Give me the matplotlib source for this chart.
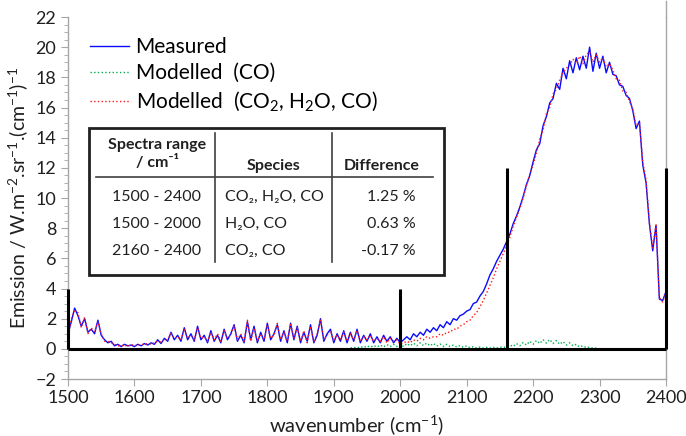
import numpy as np
import matplotlib
matplotlib.use("Agg")
import matplotlib.pyplot as plt
from matplotlib.lines import Line2D
from matplotlib.ticker import MultipleLocator

# spectra, sampled every 5 cm-1 from 1500 to 2400
wavenumber = np.arange(1500, 2405, 5)

measured = [
    1.0, 1.8, 2.7, 2.2, 1.5, 2.0, 1.1, 1.3, 1.0, 1.9,
    0.9, 0.6, 0.4, 0.5, 0.2, 0.3, 0.15, 0.3, 0.2, 0.25,
    0.15, 0.3, 0.2, 0.35, 0.25, 0.4, 0.3, 0.6, 0.35, 0.7,
    0.5, 1.1, 0.6, 0.9, 0.5, 1.4, 0.6, 1.0, 0.5, 1.5,
    0.6, 0.9, 0.4, 1.2, 0.5, 0.9, 0.4, 1.3, 0.6, 1.0,
    1.6, 0.5, 0.9, 0.4, 1.8, 0.6, 1.5, 0.4, 1.1, 0.5,
    1.7, 0.6, 1.0, 1.6, 0.5, 1.2, 0.4, 1.7, 0.6, 1.5,
    0.4, 1.1, 0.5, 1.6, 0.4, 0.9, 2.0, 0.5, 1.0, 1.3,
    0.4, 1.0, 0.5, 1.2, 0.4, 1.1, 0.5, 1.3, 0.4, 0.9,
    0.5, 1.0, 0.4, 0.8, 0.4, 0.9, 0.5, 0.8, 0.4, 0.7,
    0.4, 0.6, 0.8, 0.6, 1.0, 0.8, 1.1, 0.9, 1.3, 1.1,
    1.4, 1.2, 1.6, 1.4, 1.8, 1.6, 2.0, 1.9, 2.2, 2.3,
    2.5, 2.6, 3.0, 3.1, 3.5, 3.8, 4.3, 4.9, 5.3, 5.8,
    6.2, 6.6, 7.1, 7.6, 8.3, 8.8, 9.4, 10.1, 10.9, 11.5,
    12.4, 13.2, 13.6, 14.8, 15.4, 16.3, 16.6, 17.6, 17.2, 18.6,
    17.9, 19.1, 18.3, 19.3, 18.5, 19.4, 18.6, 20.0, 18.4, 19.6,
    18.6, 19.4, 18.3, 19.0, 18.2, 18.1, 17.5, 17.4, 16.8, 16.6,
    15.8, 14.6, 15.1, 12.2, 11.0, 8.3, 6.5, 8.2, 3.3, 3.2,
    3.8,
]

modelled_all = [
    0.8, 2.0, 2.5, 2.4, 1.4, 2.1, 1.0, 1.4, 1.1, 1.8,
    1.0, 0.5, 0.5, 0.4, 0.3, 0.2, 0.2, 0.25, 0.15, 0.3,
    0.2, 0.25, 0.3, 0.3, 0.35, 0.3, 0.4, 0.5, 0.45, 0.6,
    0.6, 1.0, 0.7, 0.8, 0.6, 1.3, 0.7, 0.9, 0.6, 1.4,
    0.7, 0.8, 0.5, 1.1, 0.6, 1.0, 0.5, 1.2, 0.7, 0.9,
    1.5, 0.6, 1.0, 0.5, 1.9, 0.5, 1.4, 0.5, 1.0, 0.6,
    1.6, 0.7, 0.9, 1.7, 0.6, 1.1, 0.5, 1.6, 0.7, 1.4,
    0.5, 1.2, 0.4, 1.5, 0.5, 1.0, 1.9, 0.6, 0.9, 1.2,
    0.5, 0.9, 0.6, 1.1, 0.5, 1.0, 0.6, 1.2, 0.5, 0.8,
    0.6, 0.9, 0.5, 0.7, 0.5, 0.8, 0.4, 0.7, 0.5, 0.6,
    0.3, 0.4, 0.5, 0.4, 0.6, 0.5, 0.7, 0.6, 0.8, 0.7,
    0.8, 0.8, 1.0, 0.9, 1.1, 1.1, 1.3, 1.3, 1.5, 1.6,
    1.8, 1.9, 2.2, 2.4, 2.8, 3.2, 3.7, 4.2, 4.7, 5.3,
    5.8, 6.3, 6.8, 7.4, 8.1, 8.7, 9.3, 10.0, 10.8, 11.6,
    12.2, 13.0, 13.9, 14.5, 15.6, 16.0, 16.9, 17.2, 17.8, 18.3,
    18.6, 18.8, 19.2, 18.9, 19.4, 18.9, 19.5, 19.7, 19.0, 19.5,
    19.0, 19.3, 18.7, 18.9, 18.5, 17.9, 17.8, 17.1, 17.0, 16.4,
    15.9, 14.8, 15.0, 12.4, 11.2, 8.4, 6.7, 8.3, 3.4, 3.1,
    3.7,
]

# CO-only model, only non-zero from ~1920 to 2300
co_wavenumber = np.arange(1920, 2305, 5)
modelled_co = [
    0.0, 0.05, 0.1, 0.05, 0.15, 0.08, 0.2, 0.1, 0.22, 0.12,
    0.25, 0.12, 0.28, 0.15, 0.3, 0.15, 0.3, 0.15, 0.35, 0.2,
    0.38, 0.2, 0.4, 0.22, 0.38, 0.2, 0.36, 0.18, 0.32, 0.15,
    0.3, 0.15, 0.25, 0.12, 0.22, 0.1, 0.2, 0.08, 0.15, 0.06,
    0.12, 0.05, 0.1, 0.05, 0.1, 0.05, 0.12, 0.08, 0.15, 0.25,
    0.15, 0.35, 0.2, 0.42, 0.25, 0.5, 0.3, 0.55, 0.35, 0.6,
    0.38, 0.62, 0.35, 0.55, 0.3, 0.48, 0.25, 0.4, 0.2, 0.3,
    0.12, 0.2, 0.08, 0.12, 0.04, 0.05, 0.0,
]

# fitting range markers
marker_wn = [1500, 2000, 2160, 2400]
marker_top = [4, 4, 12, 12]

# table
table_ranges = ["1500 - 2400", "1500 - 2000", "2160 - 2400"]
table_species = ["CO\u2082, H\u2082O, CO", "H\u2082O, CO", "CO\u2082, CO"]
table_diff = ["1.25 %", "0.63 %", "-0.17 %"]

plt.rcParams['font.family'] = ['Lato', 'DejaVu Sans']
plt.rcParams['mathtext.fontset'] = 'custom'
plt.rcParams['mathtext.rm'] = 'Lato'
plt.rcParams['mathtext.it'] = 'Lato:italic'
plt.rcParams['mathtext.bf'] = 'Lato:bold'

W, H = 686, 436
fig = plt.figure(figsize=(W / 100, H / 100), dpi=100)
ax = fig.add_axes([68 / W, 1 - 379 / H, 598 / W, 362 / H])

ax.plot(wavenumber, measured, color='#0a0aff', lw=1.0, label='Measured')
ax.plot(co_wavenumber, modelled_co, color='#00b050', lw=1.0, ls=':', label='Modelled  (CO)')
ax.plot(wavenumber, modelled_all, color='#ff1a1a', lw=1.0, ls=':',
        label='Modelled  (CO$_2$, H$_2$O, CO)')

ax.vlines(marker_wn, 0, marker_top, color='black', lw=2.2, clip_on=False, zorder=5)
ax.hlines(0, marker_wn[0], marker_wn[-1], color='black', lw=2.2, clip_on=False, zorder=5)

ax.set_xlim(1500, 2400)
ax.set_ylim(-2, 22)
ax.xaxis.set_major_locator(MultipleLocator(100))
ax.yaxis.set_major_locator(MultipleLocator(2))
ax.yaxis.set_minor_locator(MultipleLocator(0.5))

grey = '#a6a6a6'
ax.spines['top'].set_visible(False)
for s in ['left', 'bottom', 'right']:
    ax.spines[s].set_color(grey)
    ax.spines[s].set_linewidth(1.0)
# right border runs up to the top edge of the picture
fig.add_artist(Line2D([666 / W, 666 / W], [1 - 17 / H, 1 - 1 / H], transform=fig.transFigure,
                      color=grey, lw=1.0))
ax.tick_params(axis='both', which='both', direction='out', color=grey, labelsize=13,
               labelcolor='#202020')
ax.tick_params(axis='both', which='major', length=5)
ax.tick_params(axis='y', which='minor', length=3)
ax.tick_params(axis='x', pad=3)

ax.set_xlabel('wavenumber (cm$^{-1}$)', fontsize=14.5, color='#202020')
ax.xaxis.set_label_coords(0.483, -0.093)
ax.set_ylabel('Emission / W.m$^{-2}$.sr$^{-1}$.(cm$^{-1}$)$^{-1}$', fontsize=14,
              color='#202020', labelpad=4)

leg = ax.legend(loc='upper left', bbox_to_anchor=(0.012, 0.985), frameon=False,
                fontsize=15, handlelength=1.9, handletextpad=0.3, labelspacing=0.3,
                borderaxespad=0.3)


# table drawn in figure pixel coordinates
def fx(x):
    return x / W


def fy(y):
    return 1 - y / H


tbl_lw = 1.2
box = plt.Rectangle((fx(89), fy(275)), (444 - 89) / W, (275 - 128) / H, transform=fig.transFigure,
                    fill=True, facecolor='white', edgecolor='#202020', lw=2.0, zorder=10)
fig.add_artist(box)
for x in [215, 332]:
    fig.add_artist(Line2D([fx(x), fx(x)], [fy(133), fy(262)], transform=fig.transFigure,
                          color='#404040', lw=tbl_lw, zorder=11))
fig.add_artist(Line2D([fx(96), fx(433)], [fy(177), fy(177)], transform=fig.transFigure,
                      color='#404040', lw=tbl_lw, zorder=11))

hdr = dict(fontsize=11.5, fontweight='bold', color='#202020', zorder=12)
fig.text(fx(157), fy(145), 'Spectra range', ha='center', va='center', **hdr)
fig.text(fx(157), fy(162), '/ cm\u207b\u00b9', ha='center', va='center', **hdr)
fig.text(fx(273), fy(166), 'Species', ha='center', va='center', **hdr)
fig.text(fx(382), fy(166), 'Difference', ha='center', va='center', **hdr)

row_y = [197, 224, 251]
for y, r, s, d in zip(row_y, table_ranges, table_species, table_diff):
    fig.text(fx(157), fy(y), r, ha='center', va='center', fontsize=11.5, color='#202020', zorder=12)
    fig.text(fx(225), fy(y), s, ha='left', va='center', fontsize=11.5, color='#202020', zorder=12)
    fig.text(fx(416), fy(y), d, ha='right', va='center', fontsize=11.5, color='#202020', zorder=12)

fig.savefig('out.png', dpi=100)
